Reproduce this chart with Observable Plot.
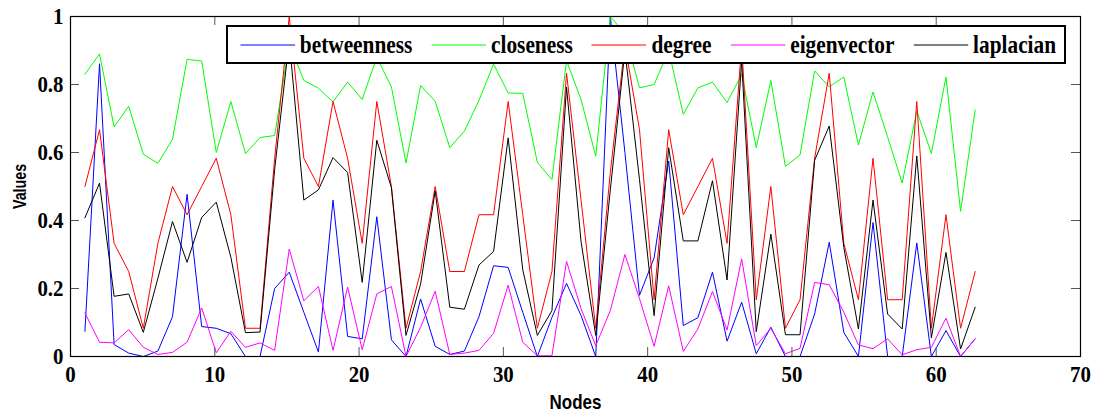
<!DOCTYPE html>
<html>
<head>
<meta charset="utf-8">
<script src="https://cdn.jsdelivr.net/npm/d3@7"></script>
<script src="https://cdn.jsdelivr.net/npm/@observablehq/plot@0.6"></script>
<style>
  body { margin: 0; background: #fff; }
  #wrap { position: relative; width: 1099px; height: 412px; overflow: hidden; background: #fff; }
  #legend {
    position: absolute; left: 226px; top: 25px; width: 840px; height: 39px;
    box-sizing: border-box; border: 2px solid #000; background: #fff; overflow: hidden;
  }
  #legend .inner {
    display: flex; align-items: center; height: 100%;
    transform: scaleX(0.82); transform-origin: 0 50%;
    padding-left: 14.6px; white-space: nowrap;
    font-family: "Liberation Serif", "Times New Roman", "DejaVu Serif", serif; font-weight: bold; font-size: 26px;
  }
  #legend .item { display: flex; align-items: center; margin-right: 23px; }
  #legend .item svg { margin-right: 6px; display: block; }
  g[aria-label="x-axis label"] { font-family: "Liberation Sans", Arial, sans-serif; font-weight: bold; font-size: 21px; }
  g[aria-label="y-axis label"] { font-family: "Liberation Sans", Arial, sans-serif; font-weight: bold; font-size: 19px; }
</style>
</head>
<body>
<div id="wrap"></div>
<script>
// ---- data ----
const seriesNames = ["betweenness", "closeness", "degree", "eigenvector", "laplacian"];
const seriesColors = ["#0000ff", "#00ff00", "#ff0000", "#ff00ff", "#000000"];

const betweenness = [0.074,0.861,0.035,0.01,0,0.016,0.117,0.477,0.088,0.083,
  0.067,0,0,0.2,0.248,0.13,0.013,0.46,0.059,0.052,
  0.411,0.049,0,0.169,0.03,0.006,0.016,0.117,0.267,0.262,
  0.13,0,0.115,0.215,0.12,0,1,0.6,0.18,0.29,
  0.575,0.091,0.114,0.248,0.045,0.16,0.008,0.086,0,0,
  0.125,0.336,0.071,0,0.394,0,0,0.334,0,0.076,
  0,0.052];
const closeness = [0.83,0.89,0.675,0.736,0.595,0.568,0.639,0.874,0.869,0.6,
  0.75,0.597,0.644,0.65,0.92,0.812,0.789,0.749,0.807,0.756,
  0.88,0.793,0.569,0.797,0.751,0.614,0.663,0.753,0.86,0.775,
  0.774,0.571,0.52,0.87,0.755,0.589,1,0.95,0.79,0.8,
  0.9,0.712,0.79,0.807,0.747,0.83,0.614,0.812,0.559,0.593,
  0.84,0.793,0.822,0.622,0.778,0.646,0.51,0.722,0.597,0.822,
  0.427,0.725];
const degree = [0.5,0.667,0.333,0.25,0.083,0.333,0.5,0.417,0.5,0.583,
  0.417,0.083,0.083,0.583,1,0.583,0.5,0.75,0.583,0.333,
  0.75,0.5,0.083,0.25,0.5,0.25,0.25,0.417,0.417,0.75,
  0.417,0.083,0.25,0.833,0.458,0.083,0.542,0.917,0.667,0.167,
  0.667,0.417,0.5,0.583,0.333,0.917,0.167,0.5,0.083,0.167,
  0.583,0.833,0.333,0.167,0.583,0.167,0.167,0.75,0.083,0.417,
  0.083,0.25];
const eigenvector = [0.128,0.042,0.04,0.079,0.027,0.006,0.012,0.042,0.143,0.011,
  0.074,0.027,0.04,0.018,0.316,0.164,0.206,0.018,0.204,0.02,
  0.184,0.206,0,0.086,0.192,0.006,0.01,0.018,0.068,0.21,
  0.042,0.002,0.002,0.28,0.14,0.032,0.135,0.3,0.17,0.03,
  0.208,0.015,0.081,0.191,0.078,0.287,0.032,0.083,0.008,0.024,
  0.218,0.211,0.13,0.034,0.023,0.052,0.005,0.02,0.027,0.113,
  0,0.052];
const laplacian = [0.408,0.51,0.177,0.184,0.071,0.23,0.397,0.277,0.409,0.454,
  0.292,0.07,0.072,0.55,0.93,0.46,0.49,0.585,0.541,0.218,
  0.636,0.497,0.062,0.213,0.487,0.145,0.139,0.269,0.309,0.643,
  0.255,0.062,0.135,0.792,0.336,0.062,0.49,0.9,0.52,0.12,
  0.614,0.34,0.34,0.517,0.225,0.87,0.073,0.36,0.064,0.064,
  0.577,0.678,0.321,0.081,0.46,0.125,0.081,0.59,0.055,0.306,
  0.022,0.145];

// node positions as read on the x axis (first node at 1, last at 62.7)
const nodeCount = 62;
const firstNodeX = 1;
const lastNodeX = 62.7;

const xTickValues = [0, 10, 20, 30, 40, 50, 60, 70];
const yTickValues = [0, 0.2, 0.4, 0.6, 0.8, 1];
const xInnerTicks = [10, 20, 30, 40, 50, 60];
const yInnerTicks = [0.2, 0.4, 0.6, 0.8];

// ---- build long table ----
const seriesValues = [betweenness, closeness, degree, eigenvector, laplacian];
const nodeX = d3.range(nodeCount).map(i => firstNodeX + i * (lastNodeX - firstNodeX) / (nodeCount - 1));
const rows = [];
seriesNames.forEach((name, j) => {
  seriesValues[j].forEach((v, i) => rows.push({node: i + 1, x: nodeX[i], series: name, value: v}));
});

const W = 1099, H = 412;
const mL = 70, mR = 19, mT = 16, mB = 56;
const innerW = W - mL - mR, innerH = H - mT - mB;
const tickLen = 9;
const serif = "'Liberation Serif', 'Times New Roman', 'DejaVu Serif', serif";

const chart = Plot.plot({
  width: W, height: H,
  marginLeft: mL, marginRight: mR, marginTop: mT, marginBottom: mB,
  style: {background: "#fff", color: "#000"},
  x: {domain: [0, 70]},
  y: {domain: [0, 1]},
  color: {domain: seriesNames, range: seriesColors},
  marks: [
    Plot.line(rows, {x: "x", y: "value", z: "series", stroke: "series", strokeWidth: 1}),
    Plot.ruleX(xInnerTicks, {stroke: "#555", insetTop: innerH - tickLen}),
    Plot.ruleX(xInnerTicks, {stroke: "#555", insetBottom: innerH - tickLen}),
    Plot.ruleY(yInnerTicks, {stroke: "#555", insetRight: innerW - tickLen}),
    Plot.ruleY(yInnerTicks, {stroke: "#555", insetLeft: innerW - tickLen}),
    Plot.frame({stroke: "#000", strokeWidth: 1.2}),
    Plot.axisX(xTickValues, {tickSize: 0, tickPadding: 8, tickFormat: d => String(d),
      fontFamily: serif, fontSize: 24, fontWeight: "bold",
      label: "Nodes", labelAnchor: "center", labelOffset: 52, labelArrow: "none"}),
    Plot.axisY(yTickValues, {tickSize: 0, tickPadding: 7, tickFormat: d => String(d),
      fontFamily: serif, fontSize: 24, fontWeight: "bold",
      label: "Values", labelAnchor: "center", labelOffset: 58, labelArrow: "none"})
  ]
});

const wrap = document.getElementById("wrap");
wrap.appendChild(chart);

// condense text horizontally (the reference uses narrow glyphs); keeps em-based y offsets
function condense(selector, sx) {
  chart.querySelectorAll(selector).forEach(t => {
    const xa = t.getAttribute("x");
    let x = 0;
    if (xa !== null && !isNaN(+xa)) { x = +xa; t.removeAttribute("x"); }
    const ya = t.getAttribute("y");
    let y = 0;
    if (ya !== null && ya !== "" && !isNaN(+ya)) { y = +ya; t.removeAttribute("y"); }
    const tr = t.getAttribute("transform") || "";
    t.setAttribute("transform", `${tr} translate(${x},${y}) scale(${sx},1)`);
  });
}
condense('g[aria-label="x-axis tick label"] text', 0.87);
condense('g[aria-label="y-axis tick label"] text', 0.87);
condense('g[aria-label="x-axis label"] text', 0.81);
condense('g[aria-label="y-axis label"] text', 0.75);

// legend (inside the plot box, top right)
const legend = document.createElement("div");
legend.id = "legend";
const inner = document.createElement("div");
inner.className = "inner";
seriesNames.forEach((name, j) => {
  const item = document.createElement("div");
  item.className = "item";
  item.innerHTML = `<svg width="67" height="4"><line x1="0" x2="67" y1="2" y2="2" stroke="${seriesColors[j]}" stroke-width="1.2"/></svg><span>${name}</span>`;
  inner.appendChild(item);
});
legend.appendChild(inner);
wrap.appendChild(legend);
</script>
</body>
</html>
